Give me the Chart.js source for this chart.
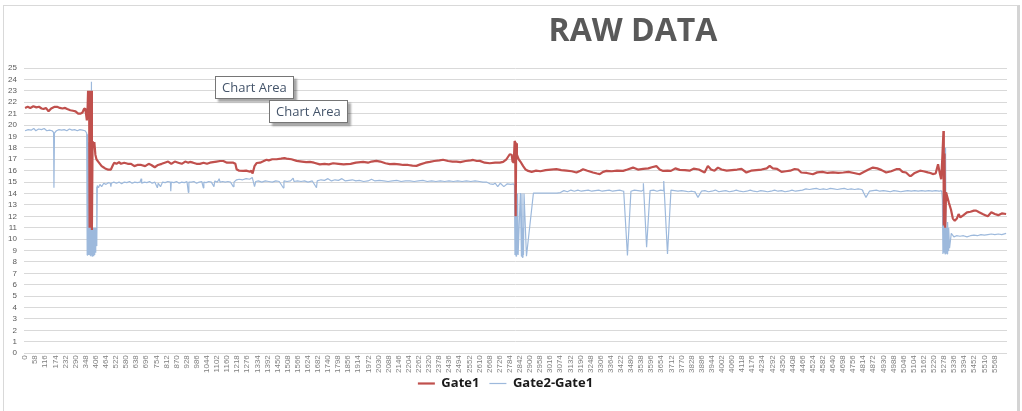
<!DOCTYPE html>
<html><head><meta charset="utf-8">
<script src="https://cdn.jsdelivr.net/npm/chart.js@4/dist/chart.umd.min.js"></script>
<style>
html,body{margin:0;padding:0;background:#fff;}
#wrap{position:relative;width:1022px;height:411px;overflow:hidden;}
#frame{position:absolute;left:3px;top:5px;width:1013px;height:420px;border-top:1px solid #d9d9d9;border-left:1px solid #d9d9d9;border-right:3px solid #d4d4d4;}
#title{position:absolute;left:533px;top:13px;width:200px;text-align:center;font:bold 32px 'Open Sans';line-height:32px;color:#595959;}
.ca{position:absolute;font:13px 'Open Sans';color:#44546a;background:#fff;border:1px solid #767676;box-shadow:3px 3px 2px rgba(0,0,0,0.35);padding:0 6px;line-height:21px;white-space:nowrap;}
canvas{position:absolute;left:0;top:0;}
</style>
</head><body>
<div id="wrap">
<div id="frame"></div>
<canvas id="c" width="1022" height="411"></canvas>
<div id="title">RAW DATA</div>
<div class="ca" style="left:215px;top:76px;">Chart Area</div>
<div class="ca" style="left:269px;top:100px;">Chart Area</div>
</div>
<script>
const seriesNames = ['Gate1', 'Gate2-Gate1'];
const tickStep = 58;
const tickLabels = Array.from({length: 97}, (_, i) => i * tickStep);
const yTicks = {min: 0, max: 25, step: 1};

const gate1Idx = [0,15,30,48,65,80,95,106,120,135,150,170,184,200,215,230,242,260,275,290,305,319,330,338,345,350,355,358,
362,365,368,371,374,377,380,384,388,392,398,404,410,420,430,440,450,460,475,493,505,512,525,540,551,570,590,609,628,645,667,690,710,725,745,764,785,802,822,840,860,880,900,920,938,947,965,985,1004,1025,1045,1062,1080,1100,1120,1139,1160,1180,1196,1208,1215,1230,1253,1270,1292,1300,1307,1318,1330,1350,1365,1387,1400,1420,1445,1470,1490,1502,1530,1560,1590,1615,1636,1660,1693,1720,1745,1770,1800,1830,1846,1870,1900,1942,1970,1990,2018,2040,2070,2095,2120,2150,2172,2200,2225,2248,2270,2300,2325,2350,2380,2401,2430,2455,2478,2500,2530,2560,2574,2595,2612,2640,2669,2700,2727,2746,2765,2784,2795,2800,2807,2812,2815,2818,2821,2825,2835,2845,2861,2875,2890,2910,2935,2960,2990,3020,3052,3080,3110,3140,3167,3190,3205,3230,3262,3285,3301,3320,3340,3370,3400,3435,3460,3492,3520,3550,3580,3600,3626,3645,3665,3690,3710,3735,3760,3790,3817,3840,3870,3903,3922,3940,3960,3980,4000,4030,4060,4090,4115,4143,4170,4200,4230,4260,4277,4295,4320,4345,4370,4395,4420,4440,4458,4490,4525,4550,4580,4610,4640,4670,4700,4730,4760,4793,4820,4845,4870,4895,4920,4946,4975,5004,5023,5040,5060,5080,5089,5110,5140,5160,5185,5200,5214,5230,5244,5255,5262,5268,5275,5277,5281,5285,5290,5306,5318,5329,5340,5352,5362,5372,5390,5410,5430,5450,5463,5480,5500,5515,5530,5550,5570,5590,5610,5635];
const gate1Val = [21.5,21.6,21.5,21.65,21.55,21.6,21.45,21.4,21.5,21.2,21.45,21.6,21.6,21.5,21.45,21.5,21.4,21.3,21.25,21.2,21.0,21.0,21.1,21.4,21.45,21.0,20.4,20.8,
23.0,20.5,23.0,11.0,23.0,21.5,23.0,10.8,18.6,18.0,18.5,17.4,17.0,16.8,16.6,16.4,16.3,16.2,16.1,16.1,16.5,16.7,16.6,16.75,16.6,16.7,16.6,16.6,16.4,16.5,16.5,16.4,16.6,16.5,16.3,16.5,16.6,16.7,16.8,16.6,16.8,16.7,16.6,16.8,16.7,16.77,16.7,16.6,16.6,16.7,16.6,16.7,16.75,16.8,16.85,16.85,16.7,16.7,16.7,16.6,16.13,16.0,15.98,16.0,15.9,16.0,15.75,16.4,16.67,16.7,16.8,16.96,16.9,17.0,17.0,17.05,17.1,17.06,17.0,16.86,16.8,16.75,16.77,16.7,16.55,16.6,16.55,16.65,16.6,16.55,16.57,16.6,16.7,16.77,16.7,16.8,16.86,16.8,16.65,16.57,16.6,16.55,16.5,16.5,16.45,16.42,16.55,16.7,16.77,16.85,16.9,16.96,16.85,16.8,16.8,16.75,16.85,16.9,16.94,16.85,16.86,16.7,16.65,16.7,16.7,16.77,17.0,17.44,17.4,16.8,16.7,18.6,18.5,12.0,18.4,17.4,17.0,16.8,16.4,16.1,15.98,15.9,16.0,15.95,16.05,16.1,16.13,16.05,16.0,15.95,15.84,16.0,16.13,16.0,15.84,15.75,15.7,15.9,15.98,15.95,16.0,15.98,16.1,16.27,16.1,16.15,16.2,16.3,16.4,16.1,15.98,16.0,15.98,16.2,16.07,16.05,16.0,16.18,16.1,15.84,16.42,16.1,16.0,16.27,16.1,16.0,16.05,16.1,16.15,15.84,16.0,16.05,16.1,16.2,16.42,16.2,16.15,15.9,15.95,16.0,16.15,16.1,15.84,15.8,15.69,15.85,15.9,15.8,15.85,15.8,15.84,15.9,15.8,15.69,15.9,16.1,16.27,16.2,16.05,15.84,15.95,16.13,16.13,15.9,15.84,15.55,15.55,15.8,16.0,15.95,15.85,15.8,15.7,15.75,16.56,15.7,15.25,17.0,19.47,11.2,17.5,11.0,14.1,13.2,12.6,11.8,11.6,11.8,12.2,11.9,12.1,12.35,12.4,12.5,12.5,12.35,12.2,12.1,12.0,12.35,12.2,12.1,12.25,12.2];

const gate2Idx = [0,18,35,50,62,78,95,110,125,140,155,164,166,169,180,195,210,225,240,255,270,285,300,315,330,345,354,
357,359,361,363,365,367,369,371,373,375,377,379,380,381,383,385,387,389,391,393,395,397,399,401,403,405,407,409,411,413,415,
422,430,440,452,465,478,490,493,496,510,525,540,555,570,585,600,615,630,645,660,667,670,685,700,715,730,745,760,765,778,790,805,820,835,837,840,855,870,885,900,915,930,938,941,955,970,985,1000,1015,1024,1027,1040,1055,1070,1085,1090,1105,1115,1120,1135,1150,1165,1180,1196,1200,1215,1230,1250,1270,1290,1305,1310,1318,1325,1340,1360,1380,1400,1420,1440,1460,1483,1487,1505,1525,1540,1545,1565,1585,1605,1625,1650,1674,1678,1700,1720,1740,1760,1780,1800,1820,1840,1860,1880,1900,1920,1945,1970,1990,2010,2035,2060,2085,2110,2135,2160,2185,2210,2235,2260,2285,2310,2335,2360,2385,2410,2435,2460,2485,2510,2535,2560,2585,2610,2630,2650,2670,2690,2700,2715,2730,2750,2770,2790,2805,
2808,2811,2814,2817,2820,2823,2826,2829,2832,2840,2845,2848,2851,2854,2857,2860,2863,2866,2880,2920,2960,3000,3040,3055,3075,3095,3115,3135,3155,3175,3195,3215,3235,3255,3275,3295,3315,3335,3355,3375,3395,3415,3437,3438,3439,3460,3480,3500,3520,3540,3550,3551,3552,3570,3590,3610,3630,3650,3667,3668,3669,3690,3710,3730,3750,3770,3790,3810,3830,3843,3846,3865,3885,3905,3925,3945,3965,3985,4005,4025,4045,4065,4085,4105,4125,4145,4165,4185,4205,4225,4245,4265,4285,4305,4325,4345,4365,4385,4405,4425,4445,4465,4485,4505,4525,4545,4565,4585,4605,4625,4645,4665,4685,4705,4725,4745,4765,4785,4805,4809,4812,4830,4850,4870,4890,4910,4930,4950,4970,4990,5010,5030,5050,5070,5090,5110,5130,5150,5170,5190,5210,5230,5250,5262,
5266,5269,5272,5275,5278,5281,5284,5287,5290,5293,5296,5299,5302,5305,5310,5320,5335,5350,5370,5390,5410,5430,5450,5470,5490,5510,5530,5550,5570,5590,5610,5635];
const gate2Val = [19.5,19.6,19.55,19.7,19.5,19.65,19.6,19.7,19.5,19.55,19.5,19.35,14.5,19.3,19.5,19.6,19.55,19.6,19.5,19.65,19.55,19.6,19.5,19.6,19.55,19.5,19.3,
8.6,19.2,8.7,18.5,8.6,17.0,8.8,15.0,8.6,12.0,8.5,14.0,23.8,8.6,11.0,8.5,11.0,8.6,11.0,8.5,11.0,8.7,11.0,8.6,11.0,8.8,11.0,9.5,14.6,9.4,14.7,
14.5,14.8,14.6,14.9,14.8,14.95,14.9,14.6,14.9,15.0,14.9,15.0,14.85,15.0,14.95,15.05,14.9,15.0,14.95,15.0,15.3,14.9,15.0,14.95,15.05,14.9,15.0,14.5,14.9,14.6,15.0,14.95,15.05,15.0,14.2,15.0,14.95,15.05,14.9,15.0,14.95,15.05,14.1,15.0,15.0,15.05,14.9,15.0,15.05,14.5,15.0,14.95,15.05,15.0,14.6,15.1,15.0,15.3,15.0,15.05,15.0,15.05,15.0,14.6,15.0,15.2,15.25,15.2,15.3,15.25,15.4,15.1,14.6,15.05,15.1,15.0,15.1,15.05,15.0,15.1,15.05,14.5,15.1,15.05,15.1,15.35,15.05,15.1,15.05,15.1,15.0,15.1,14.5,15.1,15.2,15.15,15.3,15.1,15.2,15.15,15.3,15.1,15.15,15.2,15.1,15.15,15.05,15.1,15.25,15.1,15.15,15.1,15.05,15.1,15.15,15.05,15.1,15.1,15.05,15.1,15.15,15.05,15.1,15.05,15.1,15.05,15.1,15.05,15.1,15.05,15.1,15.05,15.1,15.05,15.0,15.0,14.85,14.8,14.9,14.6,14.9,14.6,14.85,14.8,14.85,14.8,14.7,
8.6,14.5,8.5,13.0,8.7,14.0,8.6,12.0,14.04,14.04,8.5,14.0,8.4,11.0,8.6,14.0,8.5,14.04,14.04,14.04,14.04,14.04,14.08,14.25,14.15,14.3,14.2,14.3,14.2,14.25,14.3,14.2,14.25,14.3,14.2,14.25,14.3,14.2,14.25,14.3,14.2,14.25,14.2,8.57,14.2,14.3,14.25,14.2,14.3,14.25,14.9,9.3,14.25,14.3,14.2,14.3,14.25,14.2,15.1,8.7,14.3,14.25,14.2,14.25,14.2,14.15,14.2,14.15,14.2,13.66,14.2,14.25,14.15,14.2,14.3,14.15,14.2,14.25,14.15,14.2,14.3,14.2,14.15,14.2,14.3,14.2,14.15,14.25,14.2,14.15,14.2,14.3,14.2,14.25,14.15,14.2,14.3,14.2,14.25,14.3,14.4,14.35,14.4,14.45,14.35,14.4,14.35,14.45,14.4,14.35,14.4,14.45,14.35,14.4,14.35,14.4,14.35,14.3,14.2,13.66,14.2,14.25,14.3,14.2,14.25,14.2,14.15,14.25,14.2,14.15,14.2,14.25,14.2,14.25,14.2,14.25,14.2,14.25,14.2,14.25,14.2,14.25,14.1,13.5,
8.7,13.0,8.8,12.0,8.7,18.0,8.8,11.0,8.7,11.5,9.0,11.0,9.2,10.5,10.2,10.3,10.25,10.3,10.2,10.3,10.35,10.3,10.4,10.35,10.4,10.45,10.4,10.45,10.4,10.5,10.45,10.45];

const toPoints = (xs, ys) => xs.map((x, i) => ({x: x, y: ys[i]}));

const legendShift = {
  id: 'legendShift',
  afterLayout(chart) {
    if (chart.legend) { chart.legend.top -= 8; chart.legend.bottom -= 8; }
  }
};

new Chart(document.getElementById('c'), {
  type: 'line',
  plugins: [legendShift],
  data: {
    datasets: [
      {label: seriesNames[0], data: toPoints(gate1Idx, gate1Val), borderColor: '#C0504D', backgroundColor: '#C0504D', borderWidth: 2.2, pointRadius: 0, tension: 0, borderJoinStyle: 'bevel'},
      {label: seriesNames[1], data: toPoints(gate2Idx, gate2Val), borderColor: '#9DB9DC', backgroundColor: '#9DB9DC', borderWidth: 1.2, pointRadius: 0, tension: 0, borderJoinStyle: 'bevel'}
    ]
  },
  options: {
    responsive: false,
    animation: false,
    events: [],
    layout: {padding: {top: 68, left: 4, right: 15, bottom: 3}},
    plugins: {
      title: {display: false},
      tooltip: {enabled: false},
      legend: {
        position: 'bottom',
        labels: {usePointStyle: true, pointStyle: 'line', pointStyleWidth: 17, padding: 10, color: '#1a1a1a',
                 font: {family: 'Open Sans', size: 13, weight: 'bold'}}
      }
    },
    scales: {
      x: {
        type: 'linear', min: -6, max: 5640,
        afterBuildTicks: s => { s.ticks = tickLabels.map(v => ({value: v})); },
        ticks: {autoSkip: false, minRotation: 90, maxRotation: 90, padding: 2, color: '#7f7f7f',
                font: {family: 'Liberation Sans', size: 8}, callback: v => String(v)},
        grid: {display: false, drawTicks: false},
        border: {display: false}
      },
      y: {
        min: yTicks.min, max: yTicks.max,
        afterFit: s => { s.width = 20; },
        ticks: {stepSize: yTicks.step, autoSkip: false, padding: 7, color: '#595959', font: {family: 'Liberation Sans', size: 8}},
        grid: {color: '#d9d9d9', drawTicks: false},
        border: {display: false}
      }
    }
  }
});
</script>
</body></html>
